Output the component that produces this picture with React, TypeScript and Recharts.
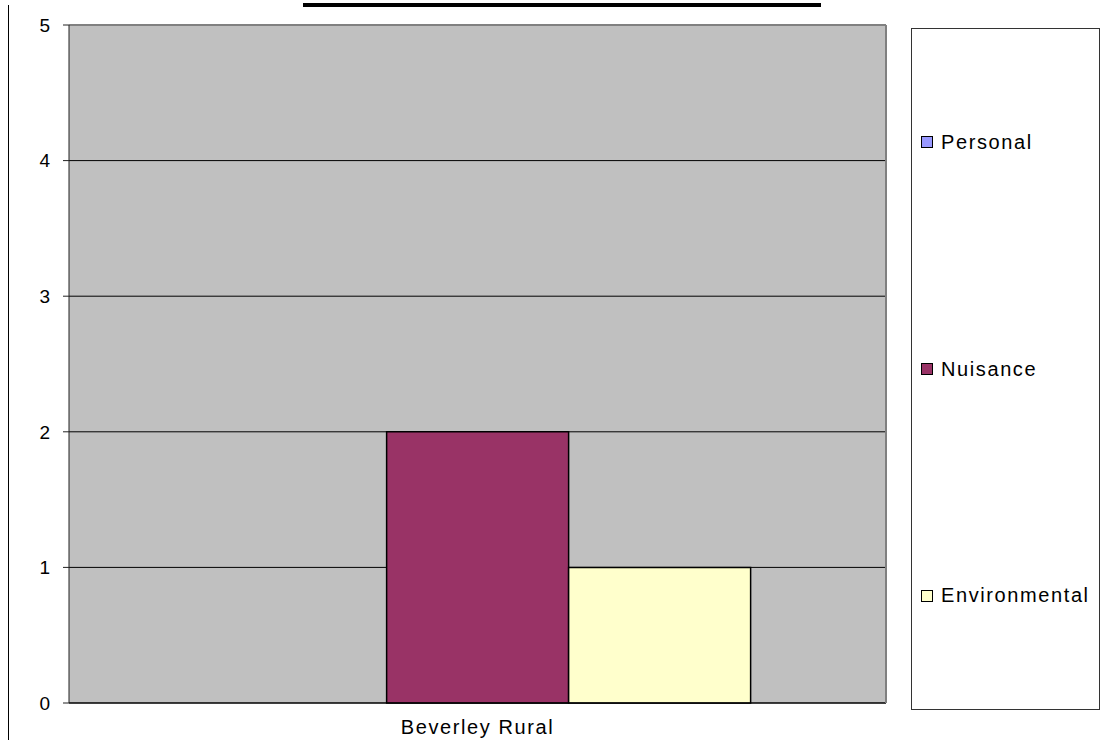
import { BarChart, Bar, XAxis, YAxis, CartesianGrid, ReferenceLine } from 'recharts';

const categories = ['Beverley Rural'];
const personal = [0];
const nuisance = [2];
const environmental = [1];
const yTicks = [0, 1, 2, 3, 4, 5];

const series = [
  { key: 'Personal', values: personal, color: '#9999FF' },
  { key: 'Nuisance', values: nuisance, color: '#993366' },
  { key: 'Environmental', values: environmental, color: '#FFFFCC' },
];

const data = categories.map((name, i) => {
  const row: Record<string, string | number> = { name };
  series.forEach((s) => {
    row[s.key] = s.values[i];
  });
  return row;
});

const font = '"Liberation Sans", Arial, sans-serif';

// legend panel sits to the right of the plot, one item per third of its height
const LegendBox = () => (
  <div
    style={{
      position: 'absolute',
      left: 911,
      top: 28,
      width: 187,
      height: 680,
      border: '1px solid #333',
      background: '#fff',
      display: 'flex',
      flexDirection: 'column',
      fontFamily: font,
    }}
  >
    {series.map((s) => (
      <div
        key={s.key}
        style={{ flex: 1, display: 'flex', alignItems: 'center', paddingLeft: 9 }}
      >
        <span
          style={{
            width: 10,
            height: 10,
            background: s.color,
            border: '1px solid #000',
            marginRight: 8,
          }}
        />
        <span style={{ fontSize: 20, letterSpacing: 1.6, color: '#000' }}>{s.key}</span>
      </div>
    ))}
  </div>
);

const App = () => {
  return (
    <div style={{ position: 'absolute', left: 0, top: 0, width: 1107, height: 740, background: '#fff' }}>
      <div style={{ position: 'absolute', left: 303, top: 3, width: 518, height: 4, background: '#000' }} />
      <div style={{ position: 'absolute', left: 8, top: 5, width: 1, height: 735, background: '#000' }} />
      <BarChart
        width={1107}
        height={740}
        data={data}
        margin={{ top: 25, right: 220, bottom: 0, left: 8 }}
        barCategoryGap="16.6%"
        barGap={0}
      >
        <CartesianGrid vertical={false} fill="#C0C0C0" stroke="#000" fillOpacity={1} />
        <XAxis
          dataKey="name"
          height={37}
          axisLine={{ stroke: '#000' }}
          tickLine={false}
          tickSize={0}
          tickMargin={17}
          tick={{ fill: '#000', fontSize: 20, fontFamily: font, letterSpacing: 1.6 }}
        />
        <YAxis
          domain={[0, 5]}
          ticks={yTicks}
          width={61}
          axisLine={{ stroke: '#222' }}
          tickLine={{ stroke: '#222' }}
          tickSize={6}
          tickMargin={13}
          tick={{ fill: '#000', fontSize: 19, fontFamily: font }}
        />
        <YAxis
          yAxisId="right"
          orientation="right"
          width={1}
          tick={false}
          tickLine={false}
          axisLine={{ stroke: '#808080', strokeWidth: 2 }}
        />
        <ReferenceLine y={5} stroke="#808080" strokeWidth={2} />
        {series.map((s) => (
          <Bar
            key={s.key}
            dataKey={s.key}
            fill={s.color}
            stroke="#000"
            strokeWidth={1.5}
            isAnimationActive={false}
          />
        ))}
      </BarChart>
      <LegendBox />
    </div>
  );
};

export default App;
